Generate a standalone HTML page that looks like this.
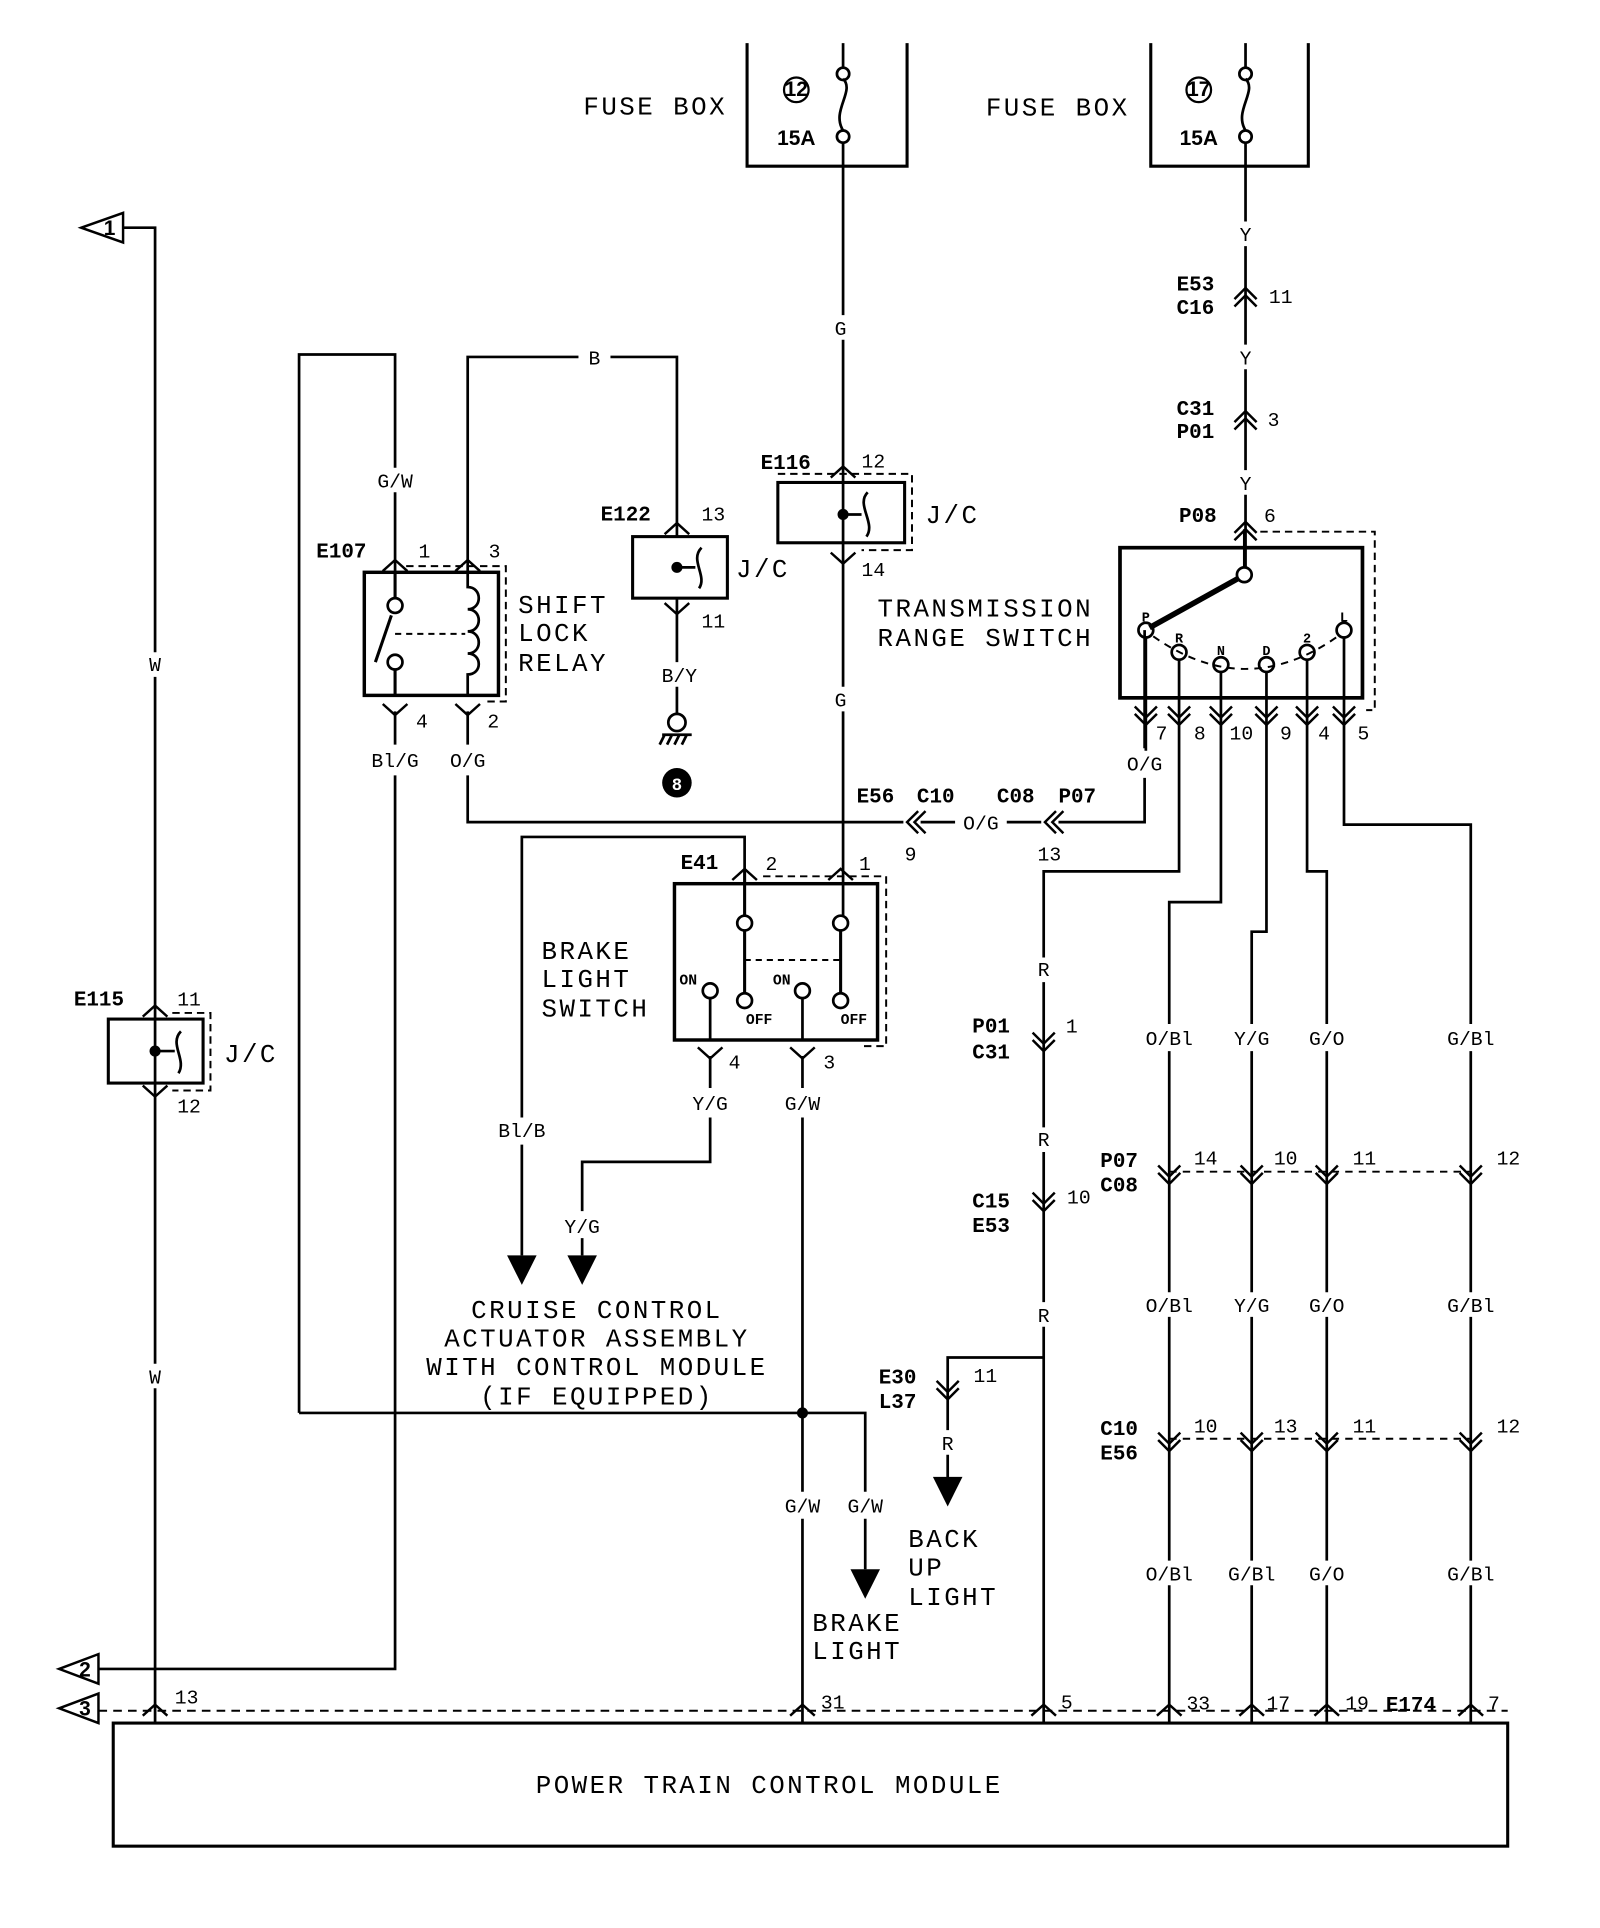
<!DOCTYPE html>
<html><head><meta charset="utf-8"><style>
html,body{margin:0;padding:0;background:#fff;}
svg{display:block}
text{font-family:"Liberation Mono","DejaVu Sans Mono",monospace;}
.b{font-family:"Liberation Sans",sans-serif;font-weight:bold;font-size:17px;}
.l{font-size:21px;letter-spacing:2px;}
.w{font-size:16px;}
.n{font-size:16px;}
</style></head><body>
<svg width="1600" height="1928" viewBox="0 0 1300 1566.5" preserveAspectRatio="none" xmlns="http://www.w3.org/2000/svg">
<defs>
<path id="cu" d="M-9 5 L0 -4 L9 5 M-9 11 L0 2 L9 11" fill="none" stroke="#000" stroke-width="2"/>
<path id="cd" d="M-9 -5 L0 4 L9 -5 M-9 -11 L0 -2 L9 -11" fill="none" stroke="#000" stroke-width="2"/>
<path id="u1" d="M-10 6 L0 -3 L10 6" fill="none" stroke="#000" stroke-width="2"/>
<path id="d1" d="M-10 -6 L0 3 L10 -6" fill="none" stroke="#000" stroke-width="2"/>
<path id="cl" d="M5 -9 L-4 0 L5 9 M11 -9 L2 0 L11 9" fill="none" stroke="#000" stroke-width="2"/>
</defs>
<g fill="none" stroke="#000" stroke-width="2.2">
<path d="M607 35 V135 H737 V35" stroke-width="2.5"/>
<path d="M935 35 V135 H1063 V35" stroke-width="2.5"/>
<circle cx="647" cy="73" r="10" stroke-width="1.8"/>
<circle cx="974" cy="73" r="10" stroke-width="1.8"/>
<path d="M685 35 V56 M685 64 C695 74 675 90 685 106 M685 116 V256 M685 276 V558 M685 578 V744"/>
<circle cx="685" cy="60" r="5"/><circle cx="685" cy="111" r="5"/>
<path d="M1012 35 V56 M1012 64 C1022 74 1002 90 1012 106 M1012 116 V180 M1012 200 V280 M1012 300 V382 M1012 402 V462"/>
<circle cx="1012" cy="60" r="5"/><circle cx="1012" cy="111" r="5"/>
<rect x="632" y="392" width="103" height="49" stroke-width="2.5"/>
<path d="M632 385 H741 V447 H700" stroke-dasharray="6 4" stroke-width="1.6"/>
<path d="M685 418 H700 M705 400 C695 410 712 425 704 436"/>
<rect x="514" y="436" width="77" height="50" stroke-width="2.5"/>
<path d="M550 461 H565 M570 445 C560 455 575 468 568 478"/>
<rect x="88" y="828" width="77" height="52" stroke-width="2.5"/>
<path d="M140 823 H171 V886 H140" stroke-dasharray="6 4" stroke-width="1.6"/>
<path d="M126 854 H142 M147 838 C137 848 152 861 145 872"/>
<path d="M100 185 H126 V530 M126 550 V1108 M126 1128 V1400"/>
<path d="M66 185 L100 173 V197 Z" stroke-width="2"/>
<path d="M80 1356 H321 V630 M321 605 V578"/>
<path d="M48 1356 L80 1344 V1368 Z" stroke-width="2"/>
<path d="M48 1388 L80 1376 V1400 Z" stroke-width="2"/>
<path d="M80 1390 H1225" stroke-dasharray="7 5" stroke-width="1.6"/>
<path d="M243 1148 V288 H321 V380 M321 400 V465"/>
<path d="M380 465 V290 H470 M496 290 H550 V436"/>
<path d="M550 486 V538 M550 558 V580"/>
<circle cx="550" cy="587" r="7"/>
<path d="M538 597 H562 M540 597 l-4 8 M546 597 l-4 8 M552 597 l-4 8 M558 597 l-4 8"/>
<rect x="296" y="465" width="109" height="100" stroke-width="2.8"/>
<path d="M330 460 H411 V570 H392" stroke-dasharray="6 4" stroke-width="1.6"/>
<circle cx="321" cy="492" r="6"/><circle cx="321" cy="538" r="6"/>
<path d="M321 465 V486 M321 544 V565 M318 500 L305 538" stroke-width="2.5"/>
<path d="M321 515 H378" stroke-dasharray="5 4" stroke-width="1.6"/>
<path d="M380 465 V477 C392 477 392 495 380 495 C392 495 392 513 380 513 C392 513 392 531 380 531 C392 531 392 548 380 548 V565"/>
<path d="M380 578 V605 M380 630 V668 H734 M748 668 H776 M818 668 H846 M860 668 H930 V632 M930 608 V512"/>
<rect x="548" y="718" width="165" height="127" stroke-width="2.8"/>
<path d="M620 712 H720 V850 H700" stroke-dasharray="6 4" stroke-width="1.6"/>
<path d="M605 707 V744 M605 756 V807 M683 756 V807" stroke-width="2.5"/>
<circle cx="605" cy="750" r="6"/><circle cx="683" cy="750" r="6"/>
<circle cx="605" cy="813" r="6"/><circle cx="683" cy="813" r="6"/>
<circle cx="577" cy="805" r="6"/><circle cx="652" cy="805" r="6"/>
<path d="M577 811 V845 M652 811 V845"/>
<path d="M605 780 H683" stroke-dasharray="5 4" stroke-width="1.6"/>
<path d="M605 707 V680 H424 V908 M424 930 V1020"/>
<path d="M577 858 V884 M577 908 V944 H473 V984 M473 1006 V1020"/>
<path d="M652 858 V884 M652 908 V1212 M652 1234 V1400"/>
<path d="M243 1148 H703 V1212 M703 1234 V1275"/>
<rect x="910" y="445" width="197" height="122" stroke-width="3"/>
<path d="M1024 432 H1117 V577 H1110" stroke-dasharray="6 4" stroke-width="1.6"/>
<circle cx="1011" cy="467" r="6"/>
<path d="M1011 430 V461"/>
<path d="M1006 470 L934 510" stroke-width="4.5"/>
<circle cx="931" cy="512" r="6"/><circle cx="958" cy="530" r="6"/><circle cx="992" cy="540" r="6"/>
<circle cx="1029" cy="540" r="6"/><circle cx="1062" cy="530" r="6"/><circle cx="1092" cy="512" r="6"/>
<path d="M937 517 Q1012 570 1087 517" stroke-dasharray="6 5" stroke-width="1.6"/>
<path d="M931 518 V610 M958 536 V708 H848 V778 M848 798 V916 M848 936 V1058 M848 1078 V1400"/>
<path d="M848 1103 H770 V1162 M770 1182 V1205"/>
<path d="M992 546 V733 H950 V832 M950 854 V1050 M950 1070 V1268 M950 1288 V1400"/>
<path d="M1029 546 V757 H1017 V832 M1017 854 V1050 M1017 1070 V1268 M1017 1288 V1400"/>
<path d="M1062 536 V708 H1078 V832 M1078 854 V1050 M1078 1070 V1268 M1078 1288 V1400"/>
<path d="M1092 518 V670 H1195 V832 M1195 854 V1050 M1195 1070 V1268 M1195 1288 V1400"/>
<path d="M950 952 H1195 M950 1169 H1195" stroke-dasharray="6 5" stroke-width="1.6"/>
<rect x="92" y="1400" width="1133" height="100" stroke-width="2.5"/>
</g>
<g fill="#000">
<path d="M412 1020 H436 L424 1044 Z"/><path d="M461 1020 H485 L473 1044 Z"/>
<path d="M691 1275 H715 L703 1299 Z"/><path d="M758 1200 H782 L770 1224 Z"/>
<circle cx="685" cy="418" r="4.5"/><circle cx="550" cy="461" r="4.5"/><circle cx="126" cy="854" r="4.5"/>
<circle cx="652" cy="1148" r="4.5"/>
<circle cx="550" cy="636" r="12"/>
</g>
<use href="#u1" x="685" y="382"/><use href="#d1" x="685" y="455"/>
<use href="#u1" x="550" y="428"/><use href="#d1" x="550" y="496"/>
<use href="#u1" x="126" y="820"/><use href="#d1" x="126" y="888"/>
<use href="#u1" x="321" y="458"/><use href="#u1" x="380" y="458"/>
<use href="#d1" x="321" y="578"/><use href="#d1" x="380" y="578"/>
<use href="#u1" x="605" y="709"/><use href="#u1" x="683" y="709"/>
<use href="#d1" x="577" y="857"/><use href="#d1" x="652" y="857"/>
<use href="#cu" x="1012" y="238"/><use href="#cu" x="1012" y="338"/><use href="#cu" x="1012" y="428"/>
<use href="#cd" x="931" y="585"/><use href="#cd" x="958" y="585"/><use href="#cd" x="992" y="585"/>
<use href="#cd" x="1029" y="585"/><use href="#cd" x="1062" y="585"/><use href="#cd" x="1092" y="585"/>
<use href="#cl" x="741" y="668"/><use href="#cl" x="853" y="668"/>
<use href="#cd" x="848" y="850"/><use href="#cd" x="848" y="980"/><use href="#cd" x="770" y="1133"/>
<use href="#cd" x="950" y="958"/><use href="#cd" x="1017" y="958"/><use href="#cd" x="1078" y="958"/><use href="#cd" x="1195" y="958"/>
<use href="#cd" x="950" y="1175"/><use href="#cd" x="1017" y="1175"/><use href="#cd" x="1078" y="1175"/><use href="#cd" x="1195" y="1175"/>
<use href="#u1" x="126" y="1388"/><use href="#u1" x="652" y="1388"/><use href="#u1" x="848" y="1388"/><use href="#u1" x="950" y="1388"/>
<use href="#u1" x="1017" y="1388"/><use href="#u1" x="1078" y="1388"/><use href="#u1" x="1195" y="1388"/>
<text class="l" x="474" y="93">FUSE BOX</text>
<text class="l" x="801" y="94">FUSE BOX</text>
<text class="b" x="647" y="78" text-anchor="middle" font-size="12">12</text>
<text class="b" x="974" y="78" text-anchor="middle" font-size="12">17</text>
<text class="b" x="647" y="118" text-anchor="middle">15A</text>
<text class="b" x="974" y="118" text-anchor="middle">15A</text>
<text class="b" x="89" y="191" text-anchor="middle" font-size="13">1</text>
<text class="b" x="69" y="1362" text-anchor="middle" font-size="13">2</text>
<text class="b" x="69" y="1394" text-anchor="middle" font-size="13">3</text>
<g class="w" text-anchor="middle">
<text x="683" y="272">G</text><text x="683" y="574">G</text>
<text x="1012" y="196">Y</text><text x="1012" y="296">Y</text><text x="1012" y="398">Y</text>
<text x="321" y="396">G/W</text><text x="483" y="296">B</text><text x="552" y="554">B/Y</text>
<text x="321" y="623">Bl/G</text><text x="380" y="623">O/G</text>
<text x="797" y="674">O/G</text><text x="930" y="626">O/G</text>
<text x="126" y="545">W</text><text x="126" y="1124">W</text>
<text x="424" y="924">Bl/B</text><text x="577" y="902">Y/G</text><text x="473" y="1002">Y/G</text>
<text x="652" y="902">G/W</text><text x="652" y="1229">G/W</text><text x="703" y="1229">G/W</text>
<text x="848" y="793">R</text><text x="848" y="931">R</text><text x="848" y="1074">R</text><text x="770" y="1178">R</text>
<text x="950" y="849">O/Bl</text><text x="1017" y="849">Y/G</text><text x="1078" y="849">G/O</text><text x="1195" y="849">G/Bl</text>
<text x="950" y="1066">O/Bl</text><text x="1017" y="1066">Y/G</text><text x="1078" y="1066">G/O</text><text x="1195" y="1066">G/Bl</text>
<text x="950" y="1284">O/Bl</text><text x="1017" y="1284">G/Bl</text><text x="1078" y="1284">G/O</text><text x="1195" y="1284">G/Bl</text>
</g>
<g class="b">
<text x="618" y="381">E116</text><text x="488" y="423">E122</text><text x="257" y="453">E107</text>
<text x="553" y="706">E41</text><text x="60" y="817">E115</text><text x="958" y="424">P08</text>
<text x="956" y="236">E53</text><text x="956" y="255">C16</text>
<text x="956" y="337">C31</text><text x="956" y="356">P01</text>
<text x="696" y="652">E56</text><text x="745" y="652">C10</text>
<text x="810" y="652">C08</text><text x="860" y="652">P07</text>
<text x="790" y="839">P01</text><text x="790" y="860">C31</text>
<text x="790" y="981">C15</text><text x="790" y="1001">E53</text>
<text x="714" y="1124">E30</text><text x="714" y="1144">L37</text>
<text x="894" y="948">P07</text><text x="894" y="968">C08</text>
<text x="894" y="1166">C10</text><text x="894" y="1186">E56</text>
<text x="1126" y="1390">E174</text>
<text x="550" y="642" text-anchor="middle" style="fill:#fff" font-size="14">8</text>
<text x="931" y="505" text-anchor="middle" font-size="11">P</text><text x="958" y="522" text-anchor="middle" font-size="11">R</text>
<text x="992" y="532" text-anchor="middle" font-size="11">N</text><text x="1029" y="532" text-anchor="middle" font-size="11">D</text>
<text x="1062" y="522" text-anchor="middle" font-size="11">2</text><text x="1092" y="505" text-anchor="middle" font-size="11">L</text>
<text x="552" y="800" font-size="12">ON</text><text x="628" y="800" font-size="12">ON</text>
<text x="606" y="832" font-size="12">OFF</text><text x="683" y="832" font-size="12">OFF</text>
</g>
<g class="n">
<text x="700" y="380">12</text><text x="700" y="468">14</text>
<text x="570" y="423">13</text><text x="570" y="510">11</text>
<text x="340" y="453">1</text><text x="397" y="453">3</text><text x="338" y="591">4</text><text x="396" y="591">2</text>
<text x="622" y="707">2</text><text x="698" y="707">1</text><text x="592" y="868">4</text><text x="669" y="868">3</text>
<text x="144" y="817">11</text><text x="144" y="904">12</text>
<text x="1031" y="246">11</text><text x="1030" y="346">3</text><text x="1027" y="424">6</text>
<text x="939" y="601">7</text><text x="970" y="601">8</text><text x="999" y="601">10</text><text x="1040" y="601">9</text><text x="1071" y="601">4</text><text x="1103" y="601">5</text>
<text x="735" y="699">9</text><text x="843" y="699">13</text>
<text x="866" y="839">1</text><text x="867" y="978">10</text><text x="791" y="1123">11</text>
<text x="970" y="946">14</text><text x="1035" y="946">10</text><text x="1099" y="946">11</text><text x="1216" y="946">12</text>
<text x="970" y="1164">10</text><text x="1035" y="1164">13</text><text x="1099" y="1164">11</text><text x="1216" y="1164">12</text>
<text x="142" y="1384">13</text><text x="667" y="1388">31</text><text x="862" y="1388">5</text><text x="964" y="1389">33</text>
<text x="1029" y="1389">17</text><text x="1093" y="1389">19</text><text x="1209" y="1389">7</text>
</g>
<g class="l">
<text x="752" y="425">J/C</text><text x="598" y="469">J/C</text><text x="182" y="863">J/C</text>
<text x="421" y="498">SHIFT</text><text x="421" y="521">LOCK</text><text x="421" y="545">RELAY</text>
<text x="713" y="501">TRANSMISSION</text><text x="713" y="525">RANGE SWITCH</text>
<text x="440" y="779">BRAKE</text><text x="440" y="802">LIGHT</text><text x="440" y="826">SWITCH</text>
<g text-anchor="middle">
<text x="485" y="1071">CRUISE CONTROL</text><text x="485" y="1094">ACTUATOR ASSEMBLY</text>
<text x="485" y="1117">WITH CONTROL MODULE</text><text x="485" y="1141">(IF EQUIPPED)</text>
<text x="625" y="1457">POWER TRAIN CONTROL MODULE</text>
</g>
<text x="738" y="1257">BACK</text><text x="738" y="1280">UP</text><text x="738" y="1304">LIGHT</text>
<text x="660" y="1325">BRAKE</text><text x="660" y="1348">LIGHT</text>
</g>
</svg>
</body></html>
